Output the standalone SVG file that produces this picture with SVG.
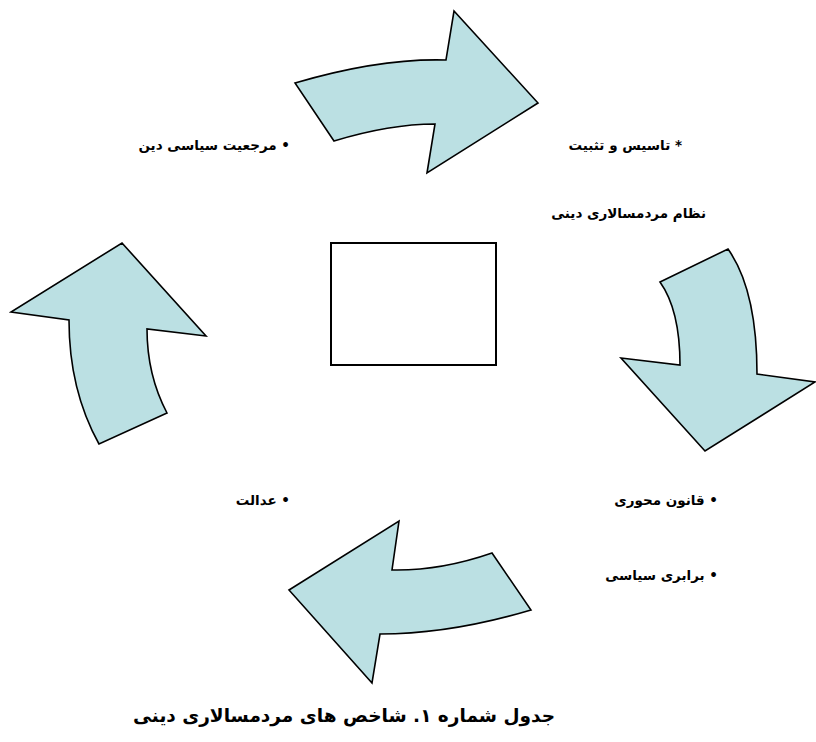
<svg xmlns="http://www.w3.org/2000/svg" width="816" height="742" viewBox="0 0 816 742">
<style>
.arrow{fill:#BBE0E3;stroke:#000;stroke-width:1.6;stroke-linejoin:miter}
.lbl{font-family:"DejaVu Sans",sans-serif;font-weight:bold;font-size:13.5px;fill:#000}
.title{font-family:"DejaVu Sans",sans-serif;font-weight:bold;font-size:18.5px;fill:#000}
</style>
<rect width="816" height="742" fill="#fff"/>
<g id="connectors">
<path id="arrow-top" class="arrow" d="M295,83 Q380,58 446,60 L454,11 L538,103 L427,173 L435,124 Q390,124 334,141 Z"/>
<path id="arrow-right" class="arrow" d="M660,282 L728,249 Q757,290 757,374 L815,382 L705,451 L621,358 L680,365 Q680,310 660,282 Z"/>
<path id="arrow-bottom" class="arrow" d="M492,553 L531,610 Q450,634 380,634 L372,683 L289,590 L399,521 L392,570 Q440,571 492,553 Z"/>
<path id="arrow-left" class="arrow" d="M167,413 L99,444 Q69,390 69,320 L11,312 L122,243 L206,336 L147,329 Q147,375 167,413 Z"/>
</g>
<g id="center">
<rect x="331" y="243" width="165" height="122" fill="#fff" stroke="#000" stroke-width="2"/>
</g>
<g id="node-marjaiyat">
<text class="lbl" x="290" y="150" direction="rtl" text-anchor="start">• مرجعیت سیاسی دین</text>
</g>
<g id="node-tasis">
<text class="lbl" x="682" y="150" direction="rtl" text-anchor="start">* تاسیس و تثبیت</text>
<text class="lbl" x="706" y="218" direction="rtl" text-anchor="start">نظام مردمسالاری دینی</text>
</g>
<g id="node-qanun">
<text class="lbl" x="718" y="505" direction="rtl" text-anchor="start">• قانون محوری</text>
<text class="lbl" x="718" y="580" direction="rtl" text-anchor="start">• برابری سیاسی</text>
</g>
<g id="node-edalat">
<text class="lbl" x="290" y="505" direction="rtl" text-anchor="start">• عدالت</text>
</g>
<g id="caption">
<text class="title" x="555" y="722" direction="rtl" text-anchor="start">جدول شماره ۱. شاخص های مردمسالاری دینی</text>
</g>
</svg>
